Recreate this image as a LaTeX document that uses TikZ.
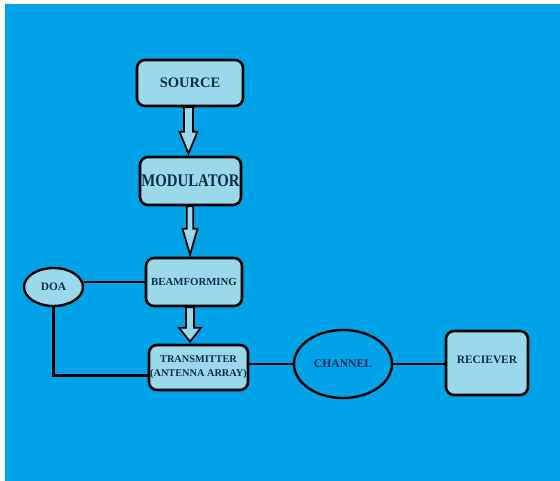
\documentclass[tikz,border=0pt]{standalone}
\usepackage{fontspec}
\setmainfont{Liberation Serif}
\usetikzlibrary{calc,shapes.geometric}
\definecolor{bgblue}{HTML}{00A2E8}
\definecolor{lblue}{HTML}{99D9EA}
\definecolor{txtc}{HTML}{0B2E4C}
\tikzset{
  box/.style={draw=black, line width=2.6pt, fill=lblue, rounded corners=8pt, inner sep=0pt, text=txtc, font=\bfseries, align=center},
  oval/.style={draw=black, line width=2.4pt, ellipse, inner sep=0pt, text=txtc, font=\bfseries},
  wire/.style={draw=black, line width=2.9pt},
  fatarr/.style={draw=black, line width=1.8pt, fill=lblue, line join=miter}
}
\newcommand\fatarrow[6]{% x, from, to, head length, half head width, half shaft width
  \draw[fatarr] let \p1=(#2), \p2=(#3) in
    ({#1-#6},\y1) -- ({#1-#6},{\y2+#4pt}) -- ({#1-#5},{\y2+#4pt}) -- (#1,{\y2+2pt})
    -- ({#1+#5},{\y2+#4pt}) -- ({#1+#6},{\y2+#4pt}) -- ({#1+#6},\y1) -- cycle;
}
\begin{document}
\begin{tikzpicture}[x=1pt,y=-1pt]
\useasboundingbox (0,0) rectangle (560,481);
\fill[bgblue] (4.5,4.5) rectangle (560,481);

\node[box, minimum width=106pt, minimum height=46pt, font=\bfseries\fontsize{14.5}{16}\selectfont] (src) at (190,83) {SOURCE};
\node[box, minimum width=101pt, minimum height=48pt, font=\bfseries\fontsize{14.8}{16}\selectfont] (mod) at (190.5,181) {\scalebox{1}[1.2]{MODULATOR}};
\node[box, minimum width=96pt, minimum height=48pt, font=\bfseries\fontsize{10.8}{12}\selectfont] (bf) at (194,282) {BEAMFORMING};
\node[box, minimum width=99pt, minimum height=45pt, font=\bfseries\fontsize{10.3}{14}\selectfont] (tx) at (198.5,367.5) {TRANSMITTER\\(ANTENNA ARRAY)};
\node[box, minimum width=82pt, minimum height=64pt, font=\bfseries\fontsize{11.4}{13}\selectfont] (rx) at (487,363) {\raisebox{7pt}{RECIEVER}};
\node[oval, fill=lblue, minimum width=59pt, minimum height=38pt, font=\bfseries\fontsize{11.4}{13}\selectfont] (doa) at (53.5,287) {DOA};
\node[oval, fill=bgblue, minimum width=98pt, minimum height=68pt, font=\bfseries\fontsize{11.6}{13}\selectfont] (ch) at (343,364) {CHANNEL};

\fatarrow{188.5}{src.south}{mod.north}{24}{9}{4.5}
\fatarrow{190}{mod.south}{bf.north}{28}{7.5}{3.3}
\fatarrow{190}{bf.south}{tx.north}{16}{11}{4}

\draw[wire] (bf.west) -- (bf.west -| doa.east);
\draw[wire] (doa.south) |- ([yshift=-8pt]tx.west);
\draw[wire] (tx.east |- ch.west) -- (ch.west);
\draw[wire] (ch.east) -- (ch.east -| rx.west);
\end{tikzpicture}
\end{document}
